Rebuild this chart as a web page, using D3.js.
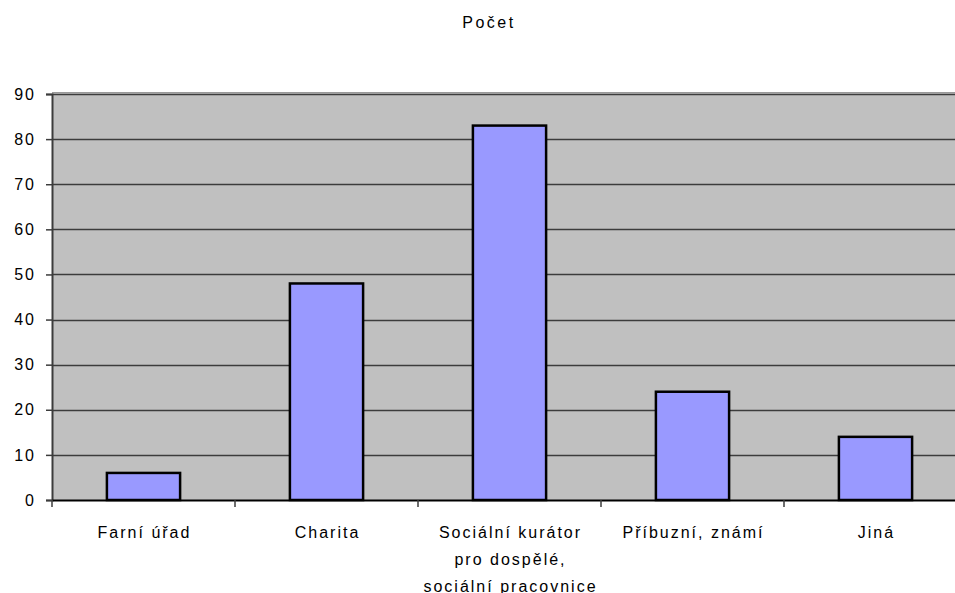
<!DOCTYPE html>
<html>
<head>
<meta charset="utf-8">
<script src="https://cdn.jsdelivr.net/npm/d3@7"></script>
<style>
  html, body { margin: 0; padding: 0; background: #fff; }
  svg text { font-family: "Liberation Sans", Arial, sans-serif; fill: #000; }
</style>
</head>
<body>
<svg id="chart" width="955" height="593"></svg>
<script>
// Chart data
const categories = ["Farní úřad", "Charita", "Sociální kurátor\npro dospělé,\nsociální pracovnice", "Příbuzní, známí", "Jiná"];
const values = [6, 48, 83, 24, 14];
const yTicks = [0, 10, 20, 30, 40, 50, 60, 70, 80, 90];
const title = "Počet";

const svg = d3.select("#chart");
const margin = { left: 52, top: 94, bottom: 500 };
const bandW = 183;
const plotRight = margin.left + bandW * categories.length;

// Bar positions: bar width is 40% of each category slot
const x = d3.scaleBand()
  .domain(categories)
  .range([margin.left, plotRight])
  .paddingInner(0.6)
  .paddingOuter(0.3);

// Full category slots, for boundary ticks and labels
const xb = d3.scaleBand().domain(categories).range([margin.left, plotRight]);

const y = d3.scaleLinear().domain([0, 90]).range([margin.bottom, margin.top]);

// Plot background
svg.append("rect")
  .attr("x", margin.left).attr("y", y(90) - 1)
  .attr("width", plotRight - margin.left).attr("height", y(0) - y(90) + 1)
  .attr("fill", "#c0c0c0");
svg.append("line")
  .attr("x1", margin.left).attr("x2", plotRight)
  .attr("y1", y(90) - 1.5).attr("y2", y(90) - 1.5)
  .attr("stroke", "#9a9a9a").attr("stroke-width", 1);

// Horizontal gridlines
svg.append("g").selectAll("line").data(yTicks.filter(d => d > 0)).join("line")
  .attr("x1", margin.left).attr("x2", plotRight)
  .attr("y1", d => Math.round(y(d)) + 0.5).attr("y2", d => Math.round(y(d)) + 0.5)
  .attr("stroke", "#3c3c3c").attr("stroke-width", 1.5);

// Bars
svg.append("g").selectAll("rect").data(values).join("rect")
  .attr("x", (d, i) => x(categories[i]))
  .attr("y", d => y(d))
  .attr("width", x.bandwidth())
  .attr("height", d => y(0) - y(d))
  .attr("fill", "#9999ff")
  .attr("stroke", "#000").attr("stroke-width", 2.5);

// Y axis
const yAxis = d3.axisLeft(y).tickValues(yTicks).tickSize(6).tickPadding(10);
const yg = svg.append("g").attr("transform", `translate(${margin.left},0)`).call(yAxis);
yg.select(".domain").attr("stroke", "#3c3c3c").attr("stroke-width", 2);
yg.selectAll(".tick line").attr("stroke", "#3c3c3c").attr("stroke-width", 1.5);
yg.selectAll(".tick text")
  .style("font-family", "'Liberation Sans', Arial, sans-serif")
  .style("font-size", "16px")
  .style("letter-spacing", "2px")
  .attr("fill", "#000");

// X axis line
const xAxis = d3.axisBottom(xb).tickSize(0).tickFormat("");
const xg = svg.append("g").attr("transform", `translate(0,${margin.bottom})`).call(xAxis);
xg.select(".domain").attr("stroke", "#000").attr("stroke-width", 2);
xg.selectAll(".tick").remove();

// Category boundary ticks
const boundaries = categories.map(c => xb(c));
svg.append("g").selectAll("line").data(boundaries).join("line")
  .attr("x1", d => d).attr("x2", d => d)
  .attr("y1", margin.bottom).attr("y2", margin.bottom + 7)
  .attr("stroke", "#3c3c3c").attr("stroke-width", 1.5);

// Category labels (multi-line where needed)
const lab = svg.append("g").selectAll("text").data(categories).join("text")
  .attr("text-anchor", "middle")
  .attr("x", d => xb(d) + xb.bandwidth() / 2)
  .attr("y", margin.bottom + 38)
  .style("font-size", "16px")
  .style("letter-spacing", "2px");
lab.each(function(d) {
  const t = d3.select(this);
  d.split("\n").forEach((line, i) => {
    t.append("tspan").attr("x", xb(d) + xb.bandwidth() / 2 + 1)
      .attr("dy", i === 0 ? 0 : 27).text(line);
  });
});

// Title
svg.append("text")
  .attr("x", 489).attr("y", 28)
  .attr("text-anchor", "middle")
  .style("font-size", "16px")
  .style("letter-spacing", "2.5px")
  .text(title);
</script>
</body>
</html>
